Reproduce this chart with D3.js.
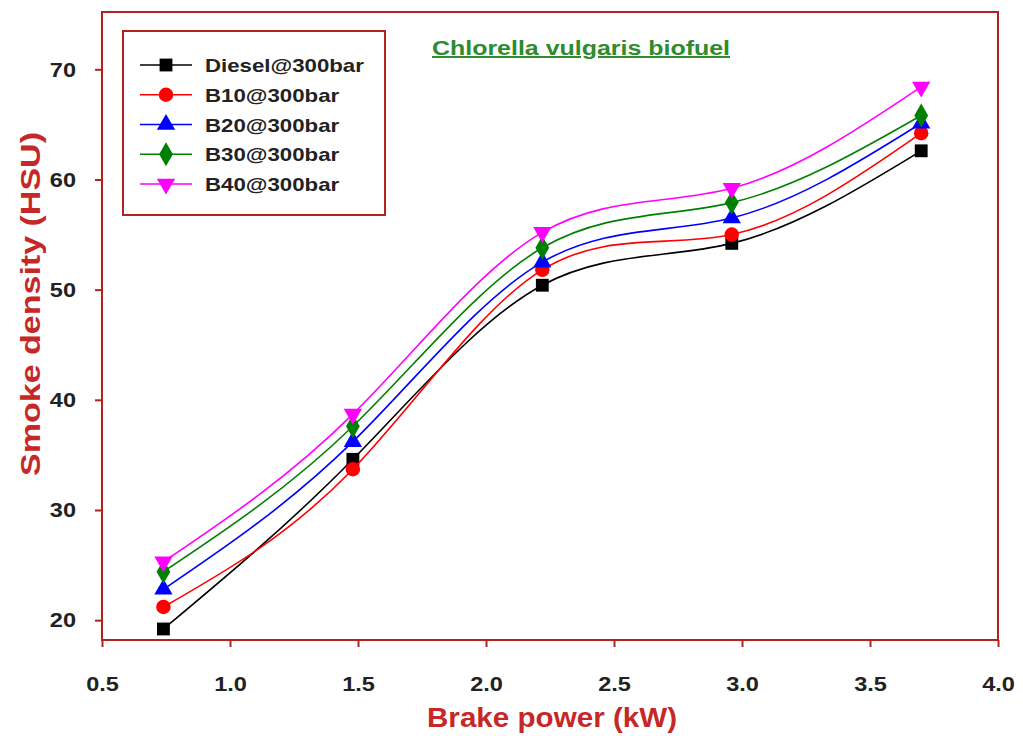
<!DOCTYPE html>
<html>
<head>
<meta charset="utf-8">
<script src="https://cdn.jsdelivr.net/npm/d3@7"></script>
<style>
  html, body { margin: 0; padding: 0; background: #fff; }
  svg { display: block; font-family: Arial, "Liberation Sans", sans-serif; }
</style>
</head>
<body>
<svg id="chart" width="1023" height="736"></svg>
<script>
// Brake power (kW) at which smoke density was measured
const brakePower = [0.74, 1.48, 2.22, 2.96, 3.70];

// Smoke density (HSU) for each fuel blend at 300 bar injection pressure
const diesel = [19.2, 34.6, 50.4, 54.2, 62.6];
const b10    = [21.2, 33.7, 51.8, 55.0, 64.2];
const b20    = [22.8, 36.2, 52.5, 56.5, 65.1];
const b30    = [24.4, 37.6, 53.8, 57.9, 65.8];
const b40    = [25.3, 38.7, 55.2, 59.2, 68.4];

const seriesNames = ["Diesel@300bar", "B10@300bar", "B20@300bar", "B30@300bar", "B40@300bar"];
const seriesValues = [diesel, b10, b20, b30, b40];

const xTicks = [0.5, 1.0, 1.5, 2.0, 2.5, 3.0, 3.5, 4.0];
const yTicks = [20, 30, 40, 50, 60, 70];

const colors = ["#000000", "#ff0000", "#0000ff", "#008000", "#ff00ff"];
const shapes = [d3.symbolSquare, d3.symbolCircle, d3.symbolTriangle, d3.symbolDiamond, "down"];

const frameColor = "#b22222";
const titleColor = "#c62828";

const svg = d3.select("#chart");
const plot = { left: 102, right: 998, top: 12, bottom: 640 };

const x = d3.scaleLinear().domain([0.5, 4.0]).range([plot.left, plot.right]);
const y = d3.scaleLinear().domain([18.2, 75.2]).range([plot.bottom, plot.top]);

// Widen a text element horizontally by a factor (the figure's type is set wide)
function widen(sel, factor) {
  sel.each(function () {
    const w = this.getComputedTextLength();
    d3.select(this).attr("textLength", w * factor).attr("lengthAdjust", "spacingAndGlyphs");
  });
}

// Marker path generator; "down" is an inverted triangle
function markerPath(shape, size) {
  if (shape === "down") {
    return d3.symbol().type(d3.symbolTriangle).size(size)();
  }
  return d3.symbol().type(shape).size(size)();
}
function markerTransform(shape, cx, cy) {
  return shape === "down" ? `translate(${cx},${cy}) rotate(180)` : `translate(${cx},${cy})`;
}
const markerSize = [165, 165, 145, 165, 145];

// Curves
const line = d3.line()
  .x((d, i) => x(brakePower[i]))
  .y(d => y(d))
  .curve(d3.curveNatural);

const series = svg.append("g").selectAll("g.series")
  .data(seriesValues)
  .join("g")
  .attr("class", "series");

series.append("path")
  .attr("d", d => line(d))
  .attr("fill", "none")
  .attr("stroke", (d, i) => colors[i])
  .attr("stroke-width", 1.6);

series.each(function (vals, si) {
  d3.select(this).selectAll("path.marker")
    .data(vals)
    .join("path")
    .attr("class", "marker")
    .attr("d", markerPath(shapes[si], markerSize[si]))
    .attr("transform", (d, i) => markerTransform(shapes[si], x(brakePower[i]), y(d)))
    .attr("fill", colors[si]);
});

// Axes
const xAxis = d3.axisBottom(x).tickValues(xTicks).tickFormat(d3.format(".1f")).tickSize(7).tickPadding(29);
const yAxis = d3.axisLeft(y).tickValues(yTicks).tickFormat(d3.format("d")).tickSize(7).tickPadding(19);

const gx = svg.append("g").attr("transform", `translate(0,${plot.bottom})`).call(xAxis);
const gy = svg.append("g").attr("transform", `translate(${plot.left},0)`).call(yAxis);

[gx, gy].forEach(g => {
  g.select(".domain").remove();
  g.selectAll(".tick line").attr("stroke", frameColor).attr("stroke-width", 2);
  g.selectAll(".tick text")
    .attr("fill", "#222")
    .attr("font-size", 21)
    .attr("font-weight", "bold");
});
widen(gx.selectAll(".tick text"), 1.12);
widen(gy.selectAll(".tick text"), 1.12);

// Plot frame
svg.append("rect")
  .attr("x", plot.left)
  .attr("y", plot.top)
  .attr("width", plot.right - plot.left)
  .attr("height", plot.bottom - plot.top)
  .attr("fill", "none")
  .attr("stroke", frameColor)
  .attr("stroke-width", 2);

// Axis titles
svg.append("text")
  .attr("x", 552)
  .attr("y", 727)
  .attr("text-anchor", "middle")
  .attr("fill", titleColor)
  .attr("font-size", 27)
  .attr("font-weight", "bold")
  .attr("textLength", 250)
  .attr("lengthAdjust", "spacingAndGlyphs")
  .text("Brake power (kW)");

svg.append("text")
  .attr("transform", `translate(40,304) rotate(-90)`)
  .attr("text-anchor", "middle")
  .attr("fill", titleColor)
  .attr("font-size", 27)
  .attr("font-weight", "bold")
  .attr("textLength", 344)
  .attr("lengthAdjust", "spacingAndGlyphs")
  .text("Smoke density (HSU)");

// Title inside plot
svg.append("text")
  .attr("x", 581)
  .attr("y", 55)
  .attr("text-anchor", "middle")
  .attr("fill", "#2e8b2e")
  .attr("font-size", 20)
  .attr("font-weight", "bold")
  .attr("text-decoration", "underline")
  .attr("textLength", 298)
  .attr("lengthAdjust", "spacingAndGlyphs")
  .text("Chlorella vulgaris biofuel");

// Legend
const legend = svg.append("g");
legend.append("rect")
  .attr("x", 123).attr("y", 31)
  .attr("width", 262).attr("height", 184)
  .attr("fill", "#fff")
  .attr("stroke", frameColor)
  .attr("stroke-width", 2);

const rowY = d3.scalePoint().domain(seriesNames).range([65, 184]);

seriesNames.forEach((name, i) => {
  const ry = rowY(name);
  legend.append("line")
    .attr("x1", 140).attr("x2", 192)
    .attr("y1", ry).attr("y2", ry)
    .attr("stroke", colors[i]).attr("stroke-width", 1.6);
  legend.append("path")
    .attr("d", markerPath(shapes[i], markerSize[i]))
    .attr("transform", markerTransform(shapes[i], 166, ry))
    .attr("fill", colors[i]);
  legend.append("text")
    .attr("x", 205).attr("y", ry + 7)
    .attr("fill", "#222")
    .attr("font-size", 19)
    .attr("font-weight", "bold")
    .text(name)
    .call(widen, 1.17);
});
</script>
</body>
</html>
